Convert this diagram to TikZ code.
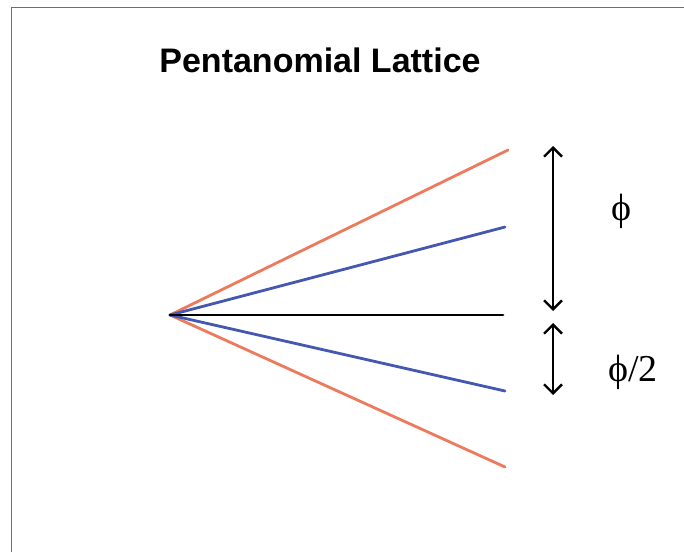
\documentclass[tikz,border=0pt]{standalone}
\usepackage{fontspec}
\setmainfont{Liberation Serif}
\setsansfont{Liberation Sans}
\usetikzlibrary{arrows.meta}
\definecolor{latticeorange}{RGB}{236,122,92}
\definecolor{latticeblue}{RGB}{68,88,178}
\definecolor{framegray}{RGB}{110,110,110}

\begin{document}
\begin{tikzpicture}[x=1pt,y=-1pt,line cap=round,line join=round,
                     branch/.style={line width=2.8pt},
                     spread/.style={line width=2.4pt,
                       {Straight Barb[length=9pt,width=18pt]}-{Straight Barb[length=9pt,width=18pt]}}]
  \useasboundingbox (0,0) rectangle (684,552);
  % Rahmen (nur oben und links sichtbar)
  \draw[framegray,line width=1.6pt,line cap=butt] (11.5,552) -- (11.5,7.5) -- (684,7.5);
  \node[font=\sffamily\bfseries\fontsize{34}{40}\selectfont] (title) at (320,60)
       {Pentanomial Lattice};
  % Verzweigungspunkt und die fuenf Aeste
  \coordinate (root) at (170,315);
  \coordinate (uu) at (508,150);
  \coordinate (u) at (505,227);
  \coordinate (m) at (503,315);
  \coordinate (d) at (505,391);
  \coordinate (dd) at (505,467);
  \draw[branch,latticeorange] (root) -- (uu);
  \draw[branch,latticeorange] (root) -- (dd);
  \draw[branch,latticeblue] (root) -- (u);
  \draw[branch,latticeblue] (root) -- (d);
  \draw[branch,black] (root) -- (m);
  % Abstaende
  \coordinate (a1) at (553,146);
  \coordinate (a2) at (553,311);
  \coordinate (b1) at (553,323);
  \coordinate (b2) at (553,395);
  \draw[spread] (a1) -- (a2);
  \draw[spread] (b1) -- (b2);
  \node[font=\fontsize{38}{44}\selectfont] (full) at (621,211) {ϕ};
  \node[font=\fontsize{38}{44}\selectfont] (half) at (633,372) {ϕ/2};
\end{tikzpicture}
\end{document}
